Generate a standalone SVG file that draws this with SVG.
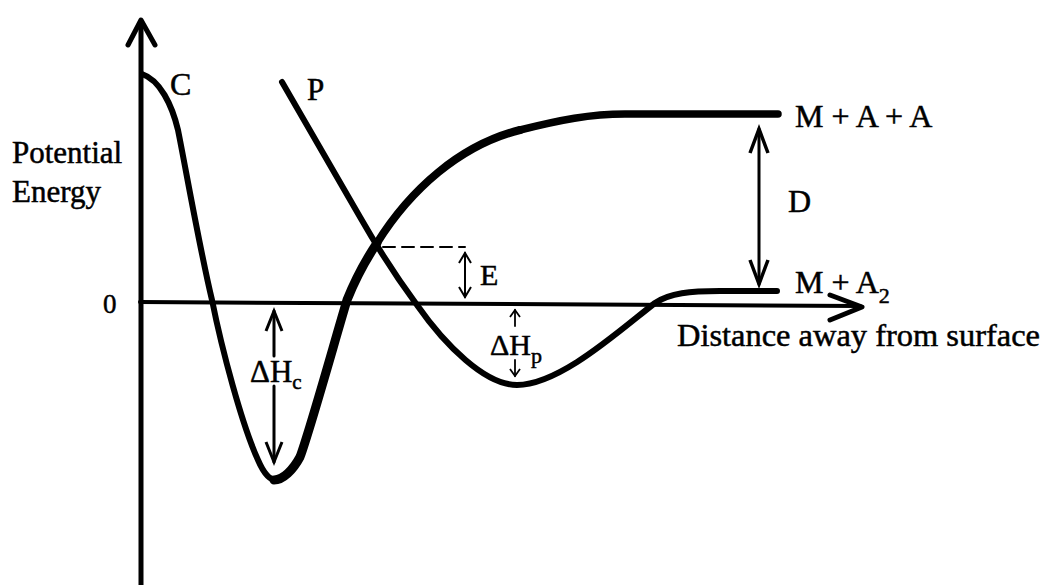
<svg xmlns="http://www.w3.org/2000/svg" width="1049" height="585" viewBox="0 0 1049 585">
<style>
.t{font-family:"Liberation Serif","Times New Roman",serif;fill:#000;stroke:#000;stroke-width:0.5}
.ln{fill:none;stroke:#000;stroke-linecap:round;stroke-linejoin:round}
</style>
<defs>
<marker id="aBig" markerUnits="userSpaceOnUse" orient="auto-start-reverse" overflow="visible" markerWidth="1" markerHeight="1"><path d="M-24,-9 L0,0 L-24,9" fill="none" stroke="#000" stroke-width="3.5"/></marker>
<marker id="aMid" markerUnits="userSpaceOnUse" orient="auto-start-reverse" overflow="visible" markerWidth="1" markerHeight="1"><path d="M-20,-8 L0,0 L-20,8" fill="none" stroke="#000" stroke-width="3"/></marker>
<marker id="aSm" markerUnits="userSpaceOnUse" orient="auto-start-reverse" overflow="visible" markerWidth="1" markerHeight="1"><path d="M-10,-6 L0,0 L-10,6" fill="none" stroke="#000" stroke-width="2"/></marker>
<marker id="aXs" markerUnits="userSpaceOnUse" orient="auto-start-reverse" overflow="visible" markerWidth="1" markerHeight="1"><path d="M-7,-5 L0,0 L-7,5" fill="none" stroke="#000" stroke-width="1.8"/></marker>
</defs>
<g id="axes">
<path class="ln" d="M141,585 L141,22" stroke-width="5" stroke-linecap="butt"/>
<path class="ln" d="M128,45 L141,20 L155,45" stroke-width="5" stroke-linejoin="miter" stroke-linecap="butt"/>
<path class="ln" d="M140,302 L860,306" stroke-width="4" stroke-linecap="butt"/>
<path class="ln" d="M830,295 L862,307 L830,320" stroke-width="5" stroke-linejoin="miter" stroke-linecap="butt"/>
</g>
<g id="curve-C">
<path class="ln" stroke-width="6" d="M142,74 C160,80 172,105 178,130 C186,170 200,250 212,300 C222,350 242,425 258,460 C264,474 270,480 276,480"/>
<path class="ln" stroke-width="9" d="M274,480 C283,480 293,470 300,457 C310,430 335,340 347,300 C357,275 367,258 377,243"/>
<path class="ln" stroke-width="8" d="M377,243 C410,190 460,145 520,130"/>
<path class="ln" stroke-width="7.5" d="M520,130 C560,120 590,114 625,114 L778,114" stroke-linecap="butt"/>
</g>
<g id="curve-P">
<path class="ln" stroke-width="6" stroke-linecap="butt" d="M282,82 L360,217 C380,252 400,282 417,305 C445,345 485,385 517,385 C560,385 620,330 655,303 C670,293 690,291 720,291 L777,291"/>
</g>
<g id="connectors">
<path class="ln" d="M383,247 L465,247" stroke-width="2" stroke-dasharray="12,7" stroke-linecap="butt"/>
<path class="ln" d="M465,253 L465,297" stroke-width="2" stroke-linecap="butt" marker-start="url(#aSm)" marker-end="url(#aSm)"/>
<path class="ln" d="M759,129 L759,284" stroke-width="3" stroke-linecap="butt" marker-start="url(#aBig)" marker-end="url(#aBig)"/>
<path class="ln" d="M274,356 L274,311" stroke-width="3" stroke-linecap="butt" marker-end="url(#aMid)"/>
<path class="ln" d="M274,386 L274,462" stroke-width="3" stroke-linecap="butt" marker-end="url(#aMid)"/>
<path class="ln" d="M515,326 L515,310" stroke-width="1.8" stroke-linecap="butt" marker-end="url(#aXs)"/>
<path class="ln" d="M515,360 L515,376" stroke-width="1.8" stroke-linecap="butt" marker-end="url(#aXs)"/>
</g>
<g id="labels">
<text class="t" x="12" y="163" font-size="31">Potential</text>
<text class="t" x="12" y="202" font-size="31">Energy</text>
<text class="t" x="103" y="313" font-size="27">0</text>
<text class="t" x="170" y="95" font-size="32">C</text>
<text class="t" x="307" y="100" font-size="31">P</text>
<text class="t" x="795" y="127" font-size="32">M + A + A</text>
<text class="t" x="795" y="293" font-size="32">M + A<tspan font-size="22" dy="10">2</tspan></text>
<text class="t" x="788" y="212" font-size="32">D</text>
<text class="t" x="480" y="285" font-size="30">E</text>
<text class="t" x="250" y="382" font-size="31">ΔH<tspan font-size="21" dy="7">c</tspan></text>
<text class="t" x="490" y="355" font-size="30">ΔH<tspan font-size="22" dy="8">p</tspan></text>
<text class="t" x="677" y="346" font-size="32" textLength="363" lengthAdjust="spacingAndGlyphs">Distance away from surface</text>
</g>
</svg>
